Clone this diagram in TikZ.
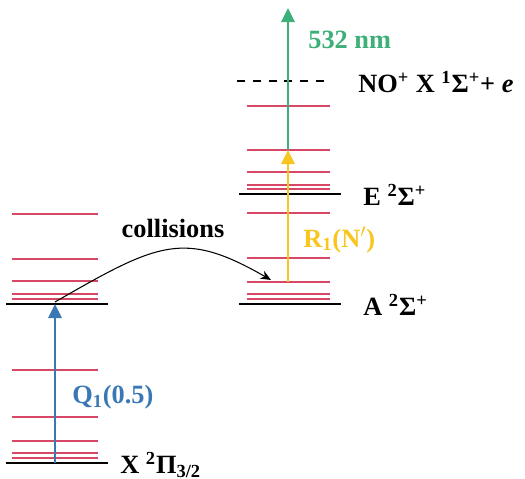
\documentclass[tikz,border=0pt]{standalone}
\usepackage{fontspec}
\setmainfont{Liberation Serif}
\usetikzlibrary{arrows.meta}
\definecolor{rungred}{RGB}{214,72,102}
\definecolor{qblue}{RGB}{58,120,181}
\definecolor{ugreen}{RGB}{60,176,120}
\definecolor{ryellow}{RGB}{248,198,30}
\tikzset{
  statelev/.style={line width=1.4pt, black},
  rung/.style={line width=0.7pt, rungred},
  ionlev/.style={statelev, dash pattern=on 4.5pt off 4.5pt},
  laser/.style={line width=1.5pt, -{Triangle[length=8pt,width=7.5pt]}},
  collide/.style={line width=0.6pt, -{Stealth[length=6pt,width=5pt]}},
  termlab/.style={font=\fontsize{15pt}{17pt}\selectfont\bfseries, inner sep=0pt},
}
\begin{document}
\begin{tikzpicture}[x=0.02cm, y=-0.02cm]
  \useasboundingbox (0,0) rectangle (525,479);
  % ground state X
  \foreach \d in {5,10,22,46,93}
    \draw[rung] (12,{463-\d}) -- (98,{463-\d});
  \draw[statelev] (6,463) -- (108,463);
  % X, v'' higher, collision partner level
  \foreach \d in {5,10,23,45,90}
    \draw[rung] (12,{304-\d}) -- (98,{304-\d});
  \draw[statelev] (6,304) -- (108,304);
  % A state
  \foreach \d in {5,10,22,46,91}
    \draw[rung] (247,{304-\d}) -- (330,{304-\d});
  \draw[statelev] (239,304) -- (341,304);
  % E state
  \foreach \d in {5,9,22,44,88}
    \draw[rung] (247,{194-\d}) -- (330,{194-\d});
  \draw[statelev] (239,194) -- (341,194);
  % ionisation limit
  \draw[ionlev] (237,81) -- (330,81);

  % arrow ends
  \coordinate (q1bot) at (55,463);
  \coordinate (q1top) at (55,304);
  \coordinate (colstart) at (55,302);
  \coordinate (colend) at (271,280);
  \coordinate (r1bot) at (288,282);
  \coordinate (r1top) at (288,150);
  \coordinate (ionbot) at (288,150);
  \coordinate (iontop) at (288,8);

  \draw[laser, qblue] (q1bot) -- (q1top);
  \draw[laser, ryellow] (r1bot) -- (r1top);
  \draw[laser, ugreen] (ionbot) -- (iontop);
  \draw[collide] (colstart) .. controls (159,242) and (184,230) .. (colend);

  % labels
  \node[termlab, anchor=west] (xlab) at (120,465) {X \textsuperscript{2}Π\textsubscript{3/2}};
  \node[termlab, anchor=west] (alab) at (363,305) {A \textsuperscript{2}Σ\textsuperscript{+}};
  \node[termlab, anchor=west] (elab) at (363,195) {E \textsuperscript{2}Σ\textsuperscript{+}};
  \node[termlab, anchor=west] (ionlab) at (358,82) {NO\textsuperscript{+} X \textsuperscript{1}Σ\textsuperscript{+}+ \textit{e}};
  \node[termlab, qblue, anchor=west] (q1lab) at (72,397) {Q\textsubscript{1}(0.5)};
  \node[termlab, ryellow, anchor=west] (r1lab) at (303,240) {R\textsubscript{1}(N$'$)};
  \node[termlab, ugreen, anchor=west] (nmlab) at (308,40) {532 nm};
  \node[termlab] (collab) at (173,228) {collisions};
\end{tikzpicture}
\end{document}
